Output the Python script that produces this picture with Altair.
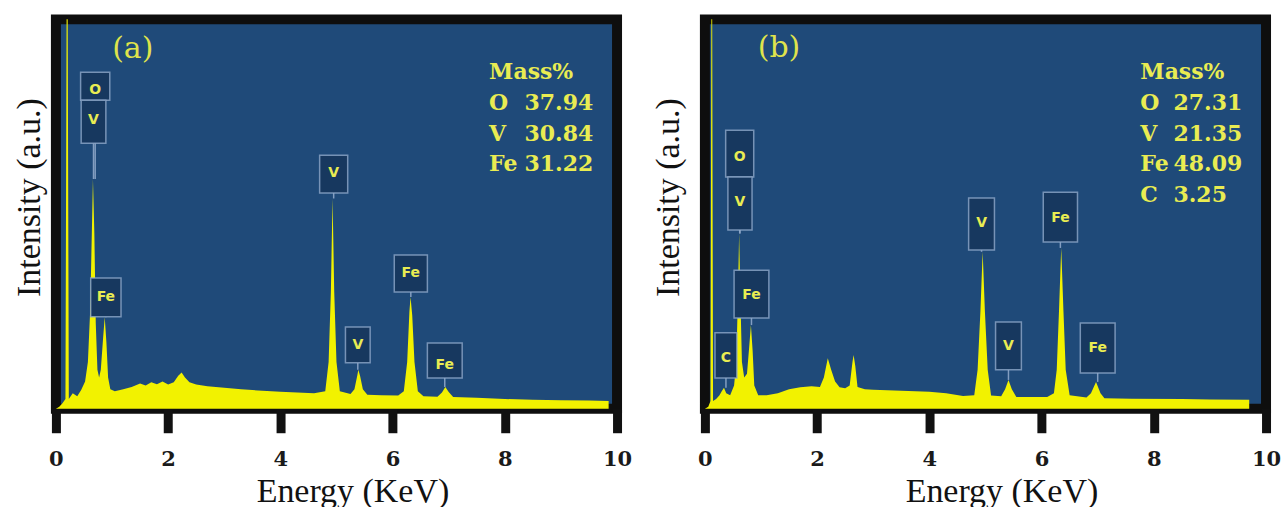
import altair as alt
import pandas as pd

# ---------------- data ----------------
# Panel (a) spectrum: energy (keV) and relative intensity (0-100 of the frame height)
A_E = [0.00, 0.06, 0.12, 0.17, 0.19, 0.21, 0.23, 0.30, 0.38, 0.45, 0.52, 0.57, 0.61, 0.64, 0.66, 0.685,
       0.71, 0.74, 0.77, 0.80, 0.84, 0.87, 0.90, 0.93, 0.97, 1.05, 1.20, 1.35, 1.50, 1.60, 1.70, 1.80,
       1.90, 2.00, 2.10, 2.18, 2.24, 2.30, 2.38, 2.50, 2.70, 3.00, 3.30, 3.60, 4.00, 4.30, 4.60, 4.80,
       4.86, 4.90, 4.93, 4.96, 5.00, 5.06, 5.25, 5.32, 5.37, 5.39, 5.42, 5.47, 5.55, 5.80, 6.10, 6.20,
       6.26, 6.30, 6.32, 6.35, 6.39, 6.45, 6.55, 6.80, 6.88, 6.94, 7.00, 7.08, 7.50, 8.00, 8.50, 9.00,
       9.50, 9.85]
A_I = [0, 0.5, 1.5, 2.5, 100, 100, 2.5, 4.0, 3.2, 4.8, 7, 12, 25, 45, 59, 45,
       22, 10, 8, 10, 18, 23.5, 17, 8, 5, 4.5, 5.0, 5.6, 6.5, 6.0, 6.8, 6.3,
       7.0, 6.2, 6.8, 8.5, 9.3, 8.0, 6.8, 6.2, 5.8, 5.4, 5.0, 4.7, 4.4, 4.2, 4.0, 4.5,
       12, 30, 54, 30, 12, 4.5, 3.8, 5.0, 8.5, 10, 8.5, 5.0, 3.6, 3.5, 3.4, 4.5,
       12, 25, 28.7, 24, 12, 4.5, 3.2, 3.1, 4.2, 5.6, 4.3, 3.0, 2.8, 2.5, 2.3, 2.2,
       2.1, 2.0]

# Panel (b) spectrum
B_E = [0.00, 0.06, 0.10, 0.115, 0.13, 0.145, 0.20, 0.26, 0.30, 0.34, 0.38, 0.45, 0.52, 0.56, 0.59, 0.61,
       0.63, 0.66, 0.70, 0.75, 0.79, 0.82, 0.85, 0.88, 0.95, 1.10, 1.30, 1.50, 1.70, 1.90, 2.05, 2.12,
       2.19, 2.25, 2.32, 2.40, 2.50, 2.58, 2.63, 2.65, 2.68, 2.72, 2.85, 3.00, 3.50, 4.00, 4.30, 4.60,
       4.80, 4.86, 4.91, 4.95, 4.99, 5.04, 5.10, 5.28, 5.35, 5.41, 5.47, 5.55, 6.10, 6.22, 6.27, 6.31,
       6.35, 6.39, 6.43, 6.50, 6.80, 6.88, 6.97, 7.05, 7.12, 7.60, 8.50, 9.00, 9.70]
B_I = [0, 0.5, 2, 100, 100, 2, 2.5, 3.5, 4.5, 5.4, 4, 3.5, 6, 12, 30, 45,
       30, 12, 8, 9, 16, 21.5, 15, 6, 3.5, 3.5, 4, 5, 5.5, 5.8, 5.6, 8,
       13, 10, 7, 5.5, 5.3, 6, 12, 13.8, 11, 5.6, 5, 4.9, 4.6, 4.4, 4.0, 3.3,
       3.5, 10, 25, 40.3, 25, 10, 3.4, 3.2, 5, 7.4, 5, 3, 3, 4, 10, 25,
       41.3, 25, 10, 3.5, 2.9, 4, 6.9, 4, 2.7, 2.6, 2.5, 2.4, 2.3]

# Peak label boxes (a)
A_LBL = ["O", "V", "Fe", "V", "V", "Fe", "Fe"]
A_X1 = [0.44, 0.45, 0.62, 4.70, 5.16, 6.03, 6.62]
A_X2 = [0.96, 0.89, 1.16, 5.20, 5.60, 6.62, 7.24]
A_TOP = [86.4, 79.2, 33.6, 65.1, 21.0, 39.5, 16.9]
A_BOT = [79.2, 68.2, 23.6, 55.4, 11.8, 30.0, 7.9]
A_TXT = [81.8, 74.1, 28.7, 60.5, 16.4, 34.9, 11.3]
A_TIP = [59, 59, 23.5, 54, 10, 28.7, 5.6]

# Peak label boxes (b)
B_LBL = ["O", "V", "Fe", "C", "V", "V", "Fe", "Fe"]
B_X1 = [0.37, 0.41, 0.52, 0.18, 4.70, 5.18, 6.03, 6.69]
B_X2 = [0.87, 0.84, 1.14, 0.57, 5.16, 5.64, 6.64, 7.31]
B_TOP = [71.5, 59.5, 35.6, 19.5, 54.1, 22.3, 55.6, 22.0]
B_BOT = [59.5, 45.9, 23.3, 7.9, 40.8, 10.0, 42.8, 9.2]
B_TXT = [64.6, 53.0, 29.2, 13.0, 47.7, 16.2, 49.0, 15.6]
B_TIP = [45, 45, 21.5, 5.4, 40.3, 7.4, 41.3, 6.9]

# Composition tables
A_EL = ["Mass%", "O", "V", "Fe"]
A_VAL = ["", "37.94", "30.84", "31.22"]
B_EL = ["Mass%", "O", "V", "Fe", "C"]
B_VAL = ["", "27.31", "21.35", "48.09", "3.25"]
ROW_I = [86.4, 78.5, 70.6, 62.8, 55.0]

TICKS = [0, 2, 4, 6, 8, 10]

# ---------------- styling ----------------
BG = "#1f4a79"
YEL = "#f2f200"
TXT_YEL = "#e9ec52"
BOX_FILL = "#17385f"
BOX_STROKE = "#8ea7c9"
SERIF = "Liberation Serif"


def panel(E, I, lbl, x1, x2, top, bot, txt, tip, tag, els, vals, el_E, val_E, ytitle_x):
    xax = alt.Axis(values=TICKS, format="d", grid=False, domain=False, labelFlush=False,
                   tickSize=24, tickWidth=9, tickColor="#111111",
                   labelFont="DejaVu Serif", labelFontSize=21, labelFontWeight="bold",
                   labelColor="#1a1a1a", labelPadding=16,
                   titleFont=SERIF, titleFontSize=34, titleFontWeight="normal", titleColor="#111111",
                   titleX=297, titleY=93, titleBaseline="alphabetic", titleAlign="center")
    yax = alt.Axis(labels=False, ticks=False, domain=False, grid=False,
                   titleFont=SERIF, titleFontSize=34, titleFontWeight="normal", titleColor="#111111",
                   titleX=ytitle_x, titleY=178, titleAlign="center", titleAngle=270)
    xs = alt.Scale(domain=[0, 10], nice=False, zero=False)
    ys = alt.Scale(domain=[0, 100], nice=False)

    def X(f):
        return alt.X(f, type="quantitative", scale=xs, axis=xax, title="Energy (KeV)")

    def Y(f):
        return alt.Y(f, type="quantitative", scale=ys, axis=yax, title="Intensity (a.u.)")

    spec = pd.DataFrame({"E": E, "I": I})
    boxes = pd.DataFrame({"lbl": lbl, "x1": x1, "x2": x2, "top": top, "bot": bot,
                          "txt": txt, "tip": tip})
    boxes["xc"] = (boxes["x1"] + boxes["x2"]) / 2
    n = len(els)
    table = pd.DataFrame({"el": els, "val": vals, "I": ROW_I[:n],
                          "eE": [el_E] * n, "vE": [val_E] * n})
    tagdf = pd.DataFrame({"t": [tag[0]], "E": [tag[1]], "I": [tag[2]]})

    area = alt.Chart(spec).mark_area(color=YEL, interpolate="linear").encode(x=X("E"), y=Y("I"))
    pointers = alt.Chart(boxes).mark_rule(color=BOX_STROKE, strokeWidth=1.5, opacity=0.9).encode(
        x=X("xc"), y=Y("bot"), y2="tip")
    rects = alt.Chart(boxes).mark_rect(fill=BOX_FILL, stroke=BOX_STROKE, strokeWidth=1.5,
                                       strokeOpacity=0.8).encode(
        x=X("x1"), x2="x2", y=Y("top"), y2="bot")
    letters = alt.Chart(boxes).mark_text(color=TXT_YEL, font="DejaVu Sans", fontSize=14,
                                         fontWeight="bold", baseline="middle").encode(
        x=X("xc"), y=Y("txt"), text="lbl:N")
    tagm = alt.Chart(tagdf).mark_text(color="#dfe34c", font="DejaVu Serif", fontSize=30,
                                      baseline="middle").encode(x=X("E"), y=Y("I"), text="t:N")
    elm = alt.Chart(table).mark_text(color=TXT_YEL, font="DejaVu Serif", fontSize=22,
                                     fontWeight="bold", align="left", baseline="middle").encode(
        x=X("eE"), y=Y("I"), text="el:N")
    valm = alt.Chart(table).mark_text(color=TXT_YEL, font="DejaVu Serif", fontSize=22,
                                      fontWeight="bold", align="left", baseline="middle").encode(
        x=X("vE"), y=Y("I"), text="val:N")
    return alt.layer(area, pointers, rects, letters, tagm, elm, valm).properties(width=562, height=390)


pa = panel(A_E, A_I, A_LBL, A_X1, A_X2, A_TOP, A_BOT, A_TXT, A_TIP, ("(a)", 1.37, 92.3),
           A_EL, A_VAL, 7.72, 8.35, -9)
pb = panel(B_E, B_I, B_LBL, B_X1, B_X2, B_TOP, B_BOT, B_TXT, B_TIP, ("(b)", 1.32, 92.6),
           B_EL, B_VAL, 7.76, 8.35, -19)

chart = alt.hconcat(pa, pb, spacing=88, bounds="flush").configure_view(
    fill=BG, stroke="#0e0e0e", strokeWidth=10
).properties(padding={"left": 7, "top": 14, "right": 0, "bottom": 0}, background="white")

chart.save("out.html", embed_options={"renderer": "svg", "actions": False})
